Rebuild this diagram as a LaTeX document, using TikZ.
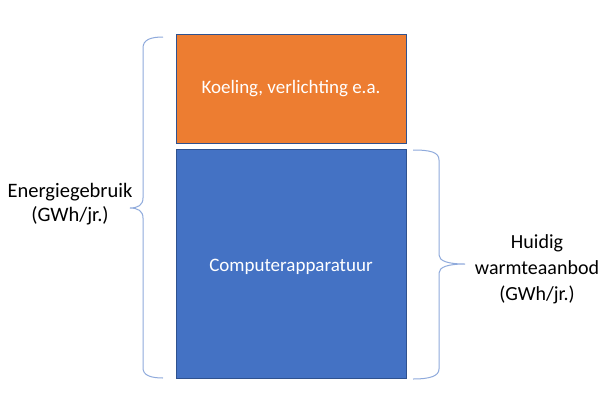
\documentclass[tikz,border=0pt]{standalone}
\usepackage{fontspec}
\setmainfont{Carlito}
\definecolor{orangefill}{HTML}{ED7D31}
\definecolor{bluefill}{HTML}{4472C4}
\definecolor{boxline}{HTML}{2F528F}
\definecolor{bracecol}{HTML}{8FAADC}
\begin{document}
\begin{tikzpicture}[x=1pt,y=-1pt,
  blockbox/.style={draw=boxline,line width=0.8pt,inner sep=0pt,text=white,font=\fontsize{19}{23}\selectfont},
  bracestyle/.style={draw=bracecol,line width=1pt},
  sidelabel/.style={align=center,inner sep=0pt,font=\fontsize{20.5}{24}\selectfont}]
\useasboundingbox (0,0) rectangle (600,400);
\fill[white] (0,0) rectangle (600,400);
\node[blockbox,fill=orangefill,minimum width=230pt,minimum height=109pt] (koeling) at (291,88.5) {Koeling, verlichting e.a.};
\node[blockbox,fill=bluefill,minimum width=230pt,minimum height=229pt] (computer) at (291,263.5) {};
\node[text=white,font=\fontsize{19}{23}\selectfont,inner sep=0pt] (computertext) at (291,267) {Computerapparatuur};
\draw[bracestyle] (163,37) .. controls (150,37) and (143,40) .. (143,48) -- (143,198)
  .. controls (143,205) and (138,208) .. (130,208)
  .. controls (138,208) and (143,211) .. (143,218) -- (143,368)
  .. controls (143,375) and (150,378) .. (163,378);
\draw[bracestyle] (413,150) .. controls (430,150) and (439,152) .. (439,160) -- (439,255)
  .. controls (439,261) and (448,264) .. (465,264)
  .. controls (448,264) and (439,267) .. (439,273) -- (439,369)
  .. controls (439,376) and (430,379) .. (413,379);
\node[sidelabel] (energie) at (70,204) {Energiegebruik\\(GWh/jr.)};
\node[sidelabel,font=\fontsize{20}{26}\selectfont] (warmte) at (537,269) {Huidig\\warmteaanbod\\(GWh/jr.)};
\end{tikzpicture}
\end{document}
